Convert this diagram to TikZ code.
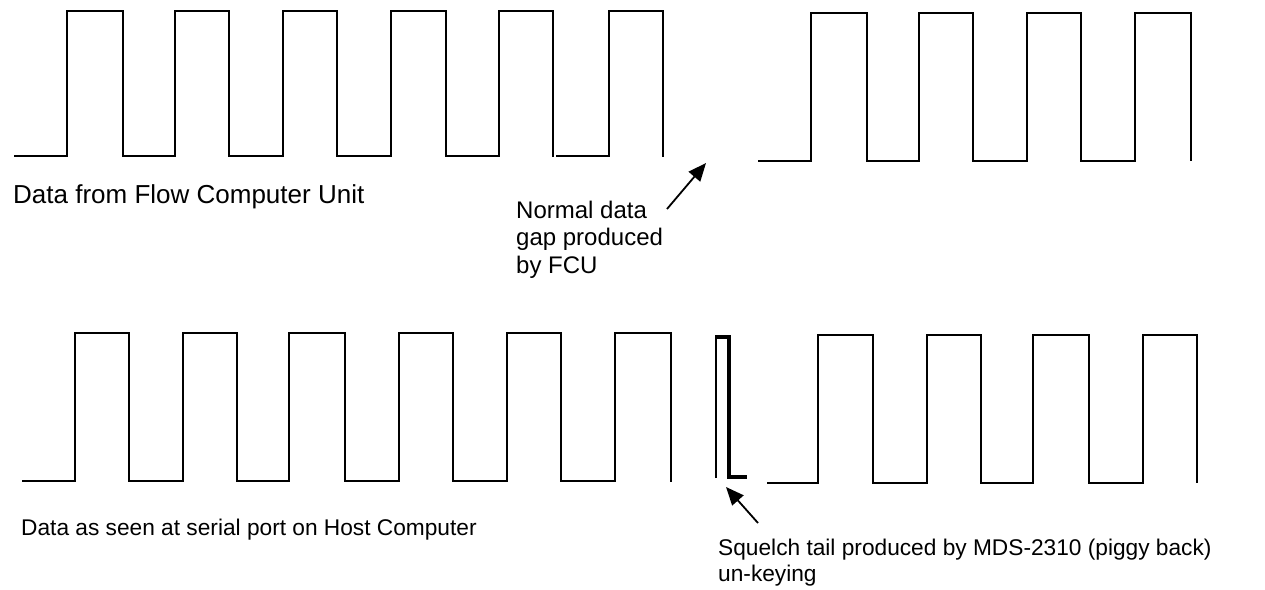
\documentclass[tikz,border=0pt]{standalone}
\usepackage{fontspec}
\setmainfont{Liberation Sans}
\usetikzlibrary{arrows.meta}
\begin{document}
\begin{tikzpicture}[x=1pt,y=-1pt,
  wave/.style={line width=2pt,line join=miter,line cap=butt},
  tail/.style={line width=3.6pt,line join=miter,line cap=butt},
  pointer/.style={line width=1.8pt,-{Triangle[length=18pt,width=15pt]}},
  lbl/.style={inner sep=0pt,anchor=base west,align=left}]
\useasboundingbox (0,0) rectangle (1265,589);
% top waveform, left part
\draw[wave] (14,156) -- (67,156) -- (67,11) -- (123,11) -- (123,156) -- (175,156)
  -- (175,11) -- (229,11) -- (229,156) -- (283,156) -- (283,11) -- (337,11)
  -- (337,156) -- (391,156) -- (391,11) -- (446,11) -- (446,156) -- (499,156)
  -- (499,11) -- (553,11) -- (553,157);
\draw[wave] (556,156) -- (609,156) -- (609,11) -- (663,11) -- (663,157);
% top waveform, right part
\draw[wave] (758,161) -- (811,161) -- (811,13) -- (867,13) -- (867,161) -- (919,161)
  -- (919,13) -- (973,13) -- (973,161) -- (1027,161) -- (1027,13) -- (1081,13)
  -- (1081,161) -- (1135,161) -- (1135,13) -- (1191,13) -- (1191,161);
% bottom waveform, left part
\draw[wave] (22,481) -- (75,481) -- (75,333) -- (129,333) -- (129,481) -- (183,481)
  -- (183,333) -- (237,333) -- (237,481) -- (289,481) -- (289,333) -- (345,333)
  -- (345,481) -- (399,481) -- (399,333) -- (453,333) -- (453,481) -- (507,481)
  -- (507,333) -- (561,333) -- (561,481) -- (615,481) -- (615,333) -- (671,333)
  -- (671,482);
% squelch tail
\draw[wave] (716,478) -- (716,337);
\draw[tail] (715,337) -- (729,337) -- (729,477) -- (747,477);
% bottom waveform, right part
\draw[wave] (767,483) -- (818,483) -- (818,335) -- (873,335) -- (873,483) -- (927,483)
  -- (927,335) -- (981,335) -- (981,483) -- (1033,483) -- (1033,335) -- (1089,335)
  -- (1089,483) -- (1143,483) -- (1143,335) -- (1197,335) -- (1197,483);
% labels (multi-line nodes are placed by the baseline of their last line)
\node[lbl,font=\fontsize{26}{30}\selectfont] (fcu) at (13,203) {Data from Flow Computer Unit};
\node[lbl,font=\fontsize{24}{27.5}\selectfont] (gap) at (516,273) {Normal data\\gap produced\\by FCU};
\node[lbl,font=\fontsize{22.7}{26}\selectfont] (host) at (21,535) {Data as seen at serial port on Host Computer};
\node[lbl,font=\fontsize{22.7}{26}\selectfont] (sq) at (718,581) {Squelch tail produced by MDS-2310 (piggy back)\\un-keying};
% pointers
\coordinate (gaptail) at (667,209);
\coordinate (gaptip) at (706,163);
\coordinate (sqtail) at (758,523);
\coordinate (sqtip) at (726,487);
\draw[pointer] (gaptail) -- (gaptip);
\draw[pointer] (sqtail) -- (sqtip);
\end{tikzpicture}
\end{document}
